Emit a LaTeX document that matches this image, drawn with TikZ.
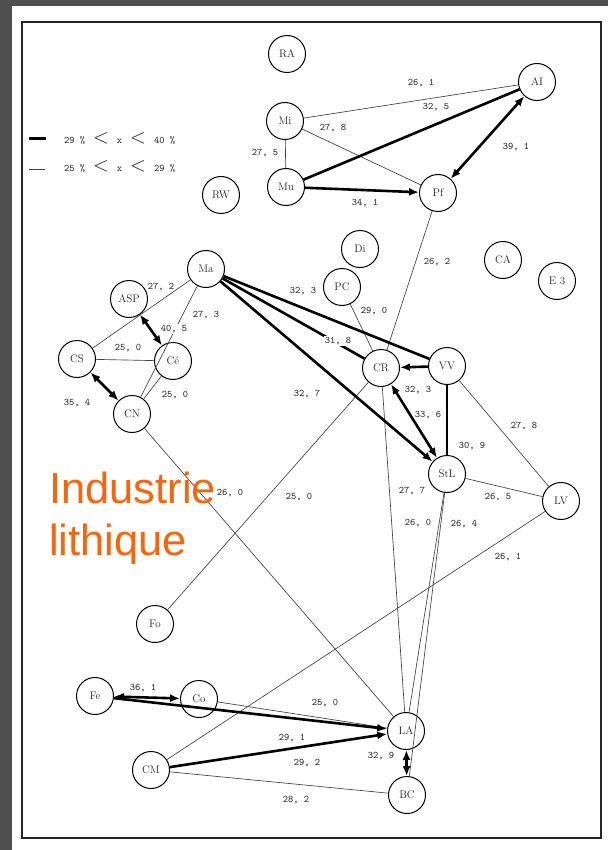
\documentclass[tikz,border=0pt]{standalone}
\usepackage{fontspec}
\newfontfamily\orangefont{Liberation Sans}
\usetikzlibrary{arrows.meta}
\definecolor{bgdark}{RGB}{80,80,80}
\definecolor{orng}{RGB}{247,102,14}
\definecolor{lbl}{RGB}{30,30,30}
\begin{document}
\begin{tikzpicture}[x=1pt,y=-1pt,
  station/.style={circle,draw=black,line width=1pt,minimum size=37pt,inner sep=0pt,font=\fontsize{11}{13}\selectfont,text=black!85},
  val/.style={font=\ttfamily\fontsize{10}{11}\selectfont,text=lbl,inner sep=1pt},
  weak/.style={line width=0.65pt,draw=black!75},
  strong/.style={line width=2.6pt,draw=black},
  onearrow/.style={-{Latex[length=10pt,width=8pt]}},
  twoarrow/.style={{Latex[length=10pt,width=8pt]}-{Latex[length=10pt,width=8pt]}},
]
\useasboundingbox (0,0) rectangle (608,850);
\fill[bgdark] (0,0) rectangle (608,850);
\fill[white] (12,6) rectangle (608,850);
\draw[line width=1.5pt,black!85] (22,22) rectangle (601,838);

% legend
\draw[strong,line width=3pt] (29,139) -- (46,139);
\draw[weak] (29,169) -- (45,169);
\node[val,anchor=west] (leg1) at (63,138) {29 \%\hspace{8pt}{\huge$<$}\hspace{8pt}x\hspace{8pt}{\huge$<$}\hspace{8pt}40 \%};
\node[val,anchor=west] (leg2) at (63,166) {25 \%\hspace{8pt}{\huge$<$}\hspace{8pt}x\hspace{8pt}{\huge$<$}\hspace{8pt}29 \%};

% stations
\node[station] (RA) at (287,54) {RA};
\node[station] (AI) at (537,82) {AI};
\node[station] (Mi) at (285,121) {Mi};
\node[station] (Mu) at (286,187) {Mu};
\node[station] (Pf) at (438,193) {Pf};
\node[station] (RW) at (221,195) {RW};
\node[station] (Di) at (360,249) {Di};
\node[station] (CA) at (503,260) {CA};
\node[station] (E3) at (557,281) {E 3};
\node[station] (Ma) at (206,269) {Ma};
\node[station] (PC) at (342,287) {PC};
\node[station] (ASP) at (129,299) {ASP};
\node[station] (CS) at (77,359) {CS};
\node[station] (Ce) at (173,361) {Cé};
\node[station] (CR) at (381,368) {CR};
\node[station] (VV) at (447,366) {VV};
\node[station] (CN) at (132,414) {CN};
\node[station] (StL) at (447,474) {StL};
\node[station] (LV) at (561,501) {LV};
\node[station] (Fo) at (155,624) {Fo};
\node[station] (Fe) at (95,696) {Fe};
\node[station] (Co) at (199,699) {Co};
\node[station] (LA) at (406,731) {LA};
\node[station] (CM) at (151,770) {CM};
\node[station] (BC) at (407,795) {BC};

% weak links
\draw[weak] (Mi) -- (AI);
\draw[weak] (Mi) -- (Pf);
\draw[weak] (Mi) -- (Mu);
\draw[weak] (Pf) -- (CR);
\draw[weak] (Ma) -- (CS);
\draw[weak] (Ma) -- (CN);
\draw[weak] (CS) -- (Ce);
\draw[weak] (Ce) -- (CN);
\draw[weak] (CN) -- (LA);
\draw[weak] (CR) -- (Fo);
\draw[weak] (PC) -- (CR);
\draw[weak] (VV) -- (LV);
\draw[weak] (StL) -- (LV);
\draw[weak] (LV) -- (CM);
\draw[weak] (CR) -- (LA);
\draw[weak] (StL) -- (LA);
\draw[weak] (StL) -- (BC);
\draw[weak] (Co) -- (LA);
\draw[weak] (CM) -- (BC);

% strong links
\draw[strong] (Mu) -- (AI);
\draw[strong,onearrow] (Mu) -- (Pf);
\draw[strong,twoarrow] (Pf) -- (AI);
\draw[strong] (Ma) -- (VV);
\draw[strong] (Ma) -- (CR);
\draw[strong,onearrow] (Ma) -- (StL);
\draw[strong,onearrow] (VV) -- (CR);
\draw[strong,twoarrow] (CR) -- (StL);
\draw[strong] (VV) -- (StL);
\draw[strong,twoarrow] (ASP) -- (Ce);
\draw[strong,twoarrow] (CS) -- (CN);
\draw[strong,twoarrow] (Fe) -- (Co);
\draw[strong,onearrow] (Fe) -- (LA);
\draw[strong,onearrow] (CM) -- (LA);
\draw[strong,twoarrow] (LA) -- (BC);

% values
\node[val] (v1) at (421,83) {26, 1};
\node[val] (v2) at (436,107) {32, 5};
\node[val] (v3) at (333,128) {27, 8};
\node[val] (v4) at (265,153) {27, 5};
\node[val] (v5) at (516,147) {39, 1};
\node[val] (v6) at (365,203) {34, 1};
\node[val] (v7) at (437,262) {26, 2};
\node[val] (v8) at (161,287) {27, 2};
\node[val] (v9) at (206,315) {27, 3};
\node[val,fill=white] (v10) at (174,329) {40, 5};
\node[val] (v11) at (128,348) {25, 0};
\node[val] (v12) at (175,395) {25, 0};
\node[val] (v13) at (77,403) {35, 4};
\node[val] (v14) at (303,291) {32, 3};
\node[val] (v15) at (374,311) {29, 0};
\node[val,fill=white] (v16) at (338,341) {31, 8};
\node[val] (v17) at (418,390) {32, 3};
\node[val] (v18) at (307,394) {32, 7};
\node[val] (v19) at (428,415) {33, 6};
\node[val] (v20) at (472,446) {30, 9};
\node[val] (v21) at (524,426) {27, 8};
\node[val] (v22) at (412,491) {27, 7};
\node[val] (v23) at (498,497) {26, 5};
\node[val] (v24) at (299,497) {25, 0};
\node[val] (v25) at (230,493) {26, 0};
\node[val] (v26) at (418,523) {26, 0};
\node[val] (v27) at (464,524) {26, 4};
\node[val] (v28) at (508,557) {26, 1};
\node[val] (v29) at (143,688) {36, 1};
\node[val] (v30) at (325,703) {25, 0};
\node[val] (v31) at (292,738) {29, 1};
\node[val] (v32) at (307,763) {29, 2};
\node[val] (v33) at (381,756) {32, 9};
\node[val] (v34) at (296,800) {28, 2};

% overlay title
\node[anchor=base west,inner sep=0pt,text=orng,font=\orangefont\fontsize{43.5}{52}\selectfont] (t1) at (49,503) {Industrie};
\node[anchor=base west,inner sep=0pt,text=orng,font=\orangefont\fontsize{43.5}{52}\selectfont] (t2) at (49,555) {lithique};
\end{tikzpicture}
\end{document}
